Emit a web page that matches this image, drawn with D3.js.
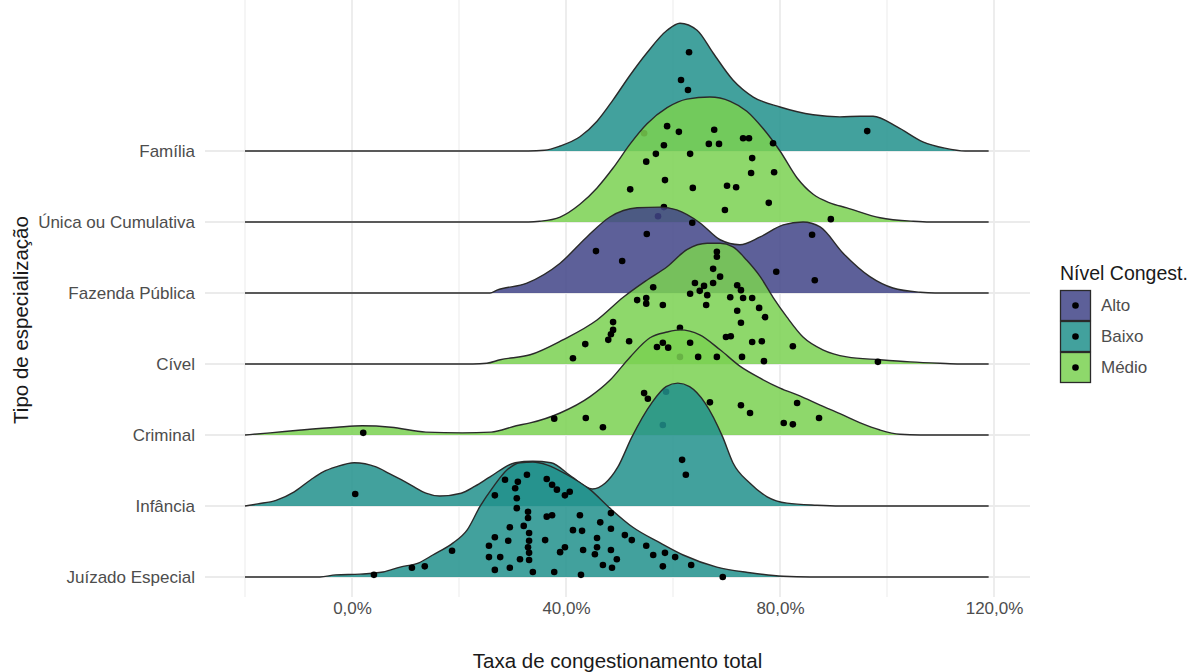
<!DOCTYPE html>
<html>
<head>
<meta charset="utf-8">
<script src="https://cdn.jsdelivr.net/npm/d3@7"></script>
<style>
  html, body { margin: 0; padding: 0; background: #ffffff; }
  svg { display: block; font-family: "Liberation Sans", Arial, sans-serif; }
</style>
</head>
<body>
<svg id="chart" width="1189" height="672"></svg>
<script>
// ---------------- DATA ----------------
// categories from bottom (index 0) to top (index 6)
const categories = ["Juízado Especial", "Infância", "Criminal", "Cível", "Fazenda Pública", "Única ou Cumulativa", "Família"];
const categoryLevel = ["Baixo", "Baixo", "Médio", "Médio", "Alto", "Médio", "Baixo"];
const levels = ["Alto", "Baixo", "Médio"];
const levelColors = ["#414487", "#21908C", "#7AD151"];
const xTicks = [0, 40, 80, 120];

// density ridges: [taxa %, scaled density height]
const densFamilia = [[-20,0],[33,0],[36,0.01],[38.9,0.07],[42.6,0.20],[45.8,0.42],[48.8,0.72],[51.9,1.06],[55.1,1.38],[58.9,1.70],[61.3,1.80],[64.5,1.70],[67.5,1.38],[71.2,1.00],[75,0.76],[80,0.62],[86.2,0.51],[91.2,0.48],[95,0.49],[97.4,0.49],[101.9,0.34],[106.7,0.13],[110.8,0.04],[114.6,0],[119,0]];
const densUnica = [[-20,0],[33,0],[35.1,0.01],[38.9,0.07],[42.6,0.25],[45.8,0.48],[48.8,0.76],[52.0,1.10],[55.1,1.38],[58.9,1.61],[62.6,1.73],[66.9,1.76],[70.7,1.70],[73.8,1.56],[76.8,1.32],[80,1.00],[83.2,0.62],[86.2,0.39],[89.3,0.27],[92.5,0.20],[98.7,0.06],[104.9,0.01],[108,0],[119,0]];
const densFazenda = [[-20,0],[25.8,0],[27.1,0.04],[32.7,0.14],[38.9,0.42],[43.9,0.79],[48.2,1.07],[53.3,1.20],[57.6,1.21],[60.7,1.17],[65.0,0.99],[68.8,0.75],[72.5,0.68],[76.3,0.79],[80.6,0.96],[84.3,1.00],[87.5,0.93],[91.8,0.56],[96.8,0.23],[101.1,0.07],[106.2,0.01],[109,0],[119,0]];
const densCivel = [[-20,0],[22.6,0],[25.2,0.01],[27.7,0.06],[33.3,0.13],[39.4,0.34],[45.8,0.62],[50.7,0.94],[55.1,1.18],[58.9,1.37],[62.6,1.61],[66.4,1.70],[68.8,1.70],[71.2,1.65],[73.8,1.46],[76.3,1.23],[78.7,0.94],[81.3,0.66],[84.3,0.38],[88.0,0.20],[92.5,0.10],[98.7,0.06],[104.3,0.03],[109.9,0.01],[113.6,0],[119,0]];
const densCriminal = [[-20,0],[-15.3,0.03],[-9.5,0.07],[-2.8,0.11],[1.9,0.13],[7.3,0.11],[13.8,0.04],[20.6,0.03],[26,0.04],[30.7,0.13],[33.3,0.17],[38.9,0.31],[44.5,0.54],[48.2,0.77],[52.0,1.10],[55.7,1.37],[58.9,1.45],[61.3,1.48],[65.0,1.41],[68.8,1.20],[72.5,0.97],[76.3,0.80],[80.0,0.66],[83.7,0.55],[87.5,0.42],[91.2,0.30],[95,0.17],[98.7,0.07],[102.4,0.01],[106.2,0],[119,0]];
const densInfancia = [[-20,0],[-17.6,0.03],[-14.2,0.08],[-10.8,0.20],[-7.7,0.37],[-5.4,0.48],[-3.0,0.55],[0.4,0.61],[4.5,0.55],[6.9,0.46],[9.2,0.37],[11.6,0.27],[13.8,0.18],[16.4,0.14],[20.4,0.18],[23.0,0.28],[25.8,0.41],[30.5,0.61],[33.8,0.63],[37.2,0.61],[41.1,0.41],[44.9,0.24],[47.3,0.32],[49.7,0.55],[52.3,0.97],[56.0,1.45],[58.7,1.68],[60.9,1.73],[63.1,1.68],[66.0,1.45],[69.3,0.97],[71.2,0.61],[74.4,0.32],[77.6,0.13],[81.3,0.04],[86.9,0.01],[91.2,0],[119,0]];
const densJuizado = [[-20,0],[-6,0],[-3,0.03],[1.5,0.04],[5.8,0.07],[9.0,0.14],[12.5,0.20],[15.1,0.31],[18.9,0.48],[21.5,0.66],[23.9,0.99],[26.4,1.27],[29.0,1.51],[31.4,1.61],[33.8,1.62],[36.4,1.58],[40.2,1.44],[44.5,1.23],[48.2,0.97],[52.5,0.70],[57.6,0.48],[61.9,0.31],[68.2,0.14],[74.4,0.06],[80.6,0.01],[85.6,0],[119,0]];

// observations: [taxa %, vertical jitter in ridge units]
const ptsFamilia = [[63.0,1.39],[61.5,1.00],[62.8,0.86],[54.6,0.25],[96.3,0.28]];
const ptsUnica = [[58.9,1.35],[61.1,1.27],[67.7,1.30],[58.3,1.08],[66.7,1.10],[68.6,1.10],[73.1,1.18],[74.2,1.18],[78.7,1.11],[56.8,0.96],[63.2,0.96],[55.0,0.85],[74.8,0.90],[58.5,0.59],[63.7,0.48],[52.0,0.46],[70.1,0.51],[71.8,0.49],[74.6,0.69],[78.9,0.70],[77.9,0.27],[69.7,0.17],[89.5,0.04],[58.3,0.21],[57.2,0.08]];
const ptsFazenda = [[63.6,0.99],[55.1,0.83],[45.6,0.59],[50.5,0.45],[86.0,0.82],[79.3,0.30],[86.5,0.18]];
const ptsCivel = [[68.2,1.58],[68.2,1.51],[67.5,1.34],[68.8,1.23],[67.5,1.14],[64.1,1.14],[65.8,1.10],[65.0,1.03],[63.2,0.99],[66.4,0.97],[72.0,1.11],[72.7,1.04],[70.7,0.94],[73.1,0.93],[74.8,0.93],[56.3,1.08],[53.3,0.90],[55.0,0.93],[55.0,0.85],[58.1,0.83],[66.2,0.83],[72.0,0.75],[76.1,0.79],[77.2,0.66],[72.7,0.58],[48.8,0.59],[48.8,0.48],[48.4,0.42],[47.9,0.34],[43.6,0.28],[51.8,0.32],[61.3,0.51],[69.9,0.38],[70.8,0.39],[74.8,0.31],[76.6,0.32],[82.4,0.25],[41.3,0.08],[72.9,0.10],[77.0,0.04],[98.3,0.03],[61.3,0.10]];
const ptsCriminal = [[2.1,0.03],[37.8,0.23],[43.7,0.24],[46.9,0.11],[54.6,0.59],[55.3,0.51],[58.7,0.61],[66.9,0.46],[72.7,0.42],[74.4,0.31],[80.7,0.17],[82.4,0.15],[83.2,0.45],[87.3,0.24],[57.0,1.24],[58.1,1.30],[59.1,1.23],[63.2,1.30],[64.7,1.10],[68.2,1.10],[58.1,0.14]];
const ptsInfancia = [[0.6,0.17],[61.7,0.65],[62.4,0.44]];
const ptsJuizado = [[32.7,1.44],[28.6,1.37],[31.0,1.34],[30.5,1.25],[36.4,1.38],[37.4,1.30],[38.3,1.23],[40.7,1.20],[39.8,1.15],[26.7,1.15],[30.8,1.11],[30.8,0.97],[32.9,0.92],[32.9,0.83],[36.4,0.85],[37.4,0.87],[42.6,0.87],[46.4,0.77],[48.4,0.90],[29.5,0.70],[32.1,0.72],[33.1,0.62],[26.7,0.56],[29.2,0.51],[33.1,0.51],[36.1,0.52],[41.3,0.66],[43.0,0.65],[45.8,0.55],[48.4,0.68],[51.0,0.59],[52.3,0.52],[25.6,0.44],[32.9,0.42],[39.8,0.42],[38.9,0.35],[43.2,0.38],[45.8,0.42],[48.4,0.38],[55.0,0.44],[25.6,0.28],[27.7,0.28],[31.4,0.25],[33.1,0.34],[33.1,0.24],[45.4,0.32],[49.5,0.25],[56.3,0.31],[58.5,0.34],[60.4,0.28],[18.7,0.37],[13.6,0.15],[11.2,0.13],[26.7,0.10],[29.5,0.13],[33.8,0.07],[37.8,0.07],[42.8,0.03],[46.9,0.17],[48.6,0.13],[58.1,0.15],[63.4,0.17],[69.3,0.00],[4.1,0.03]];

const densities = [densJuizado, densInfancia, densCriminal, densCivel, densFazenda, densUnica, densFamilia];
const points = [ptsJuizado, ptsInfancia, ptsCriminal, ptsCivel, ptsFazenda, ptsUnica, ptsFamilia];

// ---------------- CHART ----------------
const svg = d3.select("#chart");
const panel = { left: 205, right: 1030, top: 0, bottom: 597 };
const FONT = '"Liberation Sans", Arial, sans-serif';

const x = d3.scaleLinear().domain([-20, 120]).range([245, 994]);
const y = d3.scaleLinear().domain([0, 6]).range([577, 151]);
const color = d3.scaleOrdinal().domain(levels).range(levelColors);
const fillAlpha = 0.85;

// gridlines
const grid = svg.append("g");
grid.selectAll("line.vx")
  .data(d3.range(-20, 121, 20))
  .join("line")
  .attr("x1", d => x(d)).attr("x2", d => x(d))
  .attr("y1", panel.top).attr("y2", panel.bottom)
  .attr("stroke", "#ebebeb")
  .attr("stroke-width", d => (d % 40 === 0) ? 1.8 : 1);
grid.selectAll("line.hy")
  .data(d3.range(categories.length))
  .join("line")
  .attr("x1", panel.left).attr("x2", panel.right)
  .attr("y1", d => y(d)).attr("y2", d => y(d))
  .attr("stroke", "#ebebeb").attr("stroke-width", 1.8);

// ridges (top first, so lower ridges overlay upper ones)
const area = d3.area().curve(d3.curveMonotoneX);
const line = d3.line().curve(d3.curveMonotoneX);
const ridges = svg.append("g");
for (let i = categories.length - 1; i >= 0; i--) {
  const g = ridges.append("g");
  const dens = densities[i];
  const c = color(categoryLevel[i]);
  g.append("path")
    .attr("d", area.x(d => x(d[0])).y0(() => y(i)).y1(d => y(i + d[1]))(dens))
    .attr("fill", c).attr("fill-opacity", fillAlpha);
  g.append("path")
    .attr("d", line.x(d => x(d[0])).y(d => y(i + d[1]))(dens))
    .attr("fill", "none").attr("stroke", "#2a2a2a").attr("stroke-width", 1.4);
  g.selectAll("circle")
    .data(points[i])
    .join("circle")
    .attr("cx", d => x(d[0]))
    .attr("cy", d => y(i + d[1]))
    .attr("r", 3.3)
    .attr("fill", "#000000");
}

// x axis
const fmt = d => d3.format(".1f")(d).replace(".", ",") + "%";
const xAxis = svg.append("g")
  .attr("transform", `translate(0,${panel.bottom + 3})`)
  .call(d3.axisBottom(x).tickValues(xTicks).tickFormat(fmt).tickSize(0).tickPadding(2));
xAxis.select(".domain").remove();
xAxis.selectAll("text").attr("fill", "#4d4d4d").style("font-size", "17px").style("font-family", FONT);

// y axis
const yAxis = svg.append("g")
  .attr("transform", `translate(${panel.left},0)`)
  .call(d3.axisLeft(y).tickValues(d3.range(categories.length)).tickFormat(i => categories[i]).tickSize(0).tickPadding(10));
yAxis.select(".domain").remove();
yAxis.selectAll("text").attr("fill", "#4d4d4d").style("font-size", "17px").style("font-family", FONT);

// axis titles
svg.append("text")
  .attr("x", (panel.left + panel.right) / 2).attr("y", 668)
  .attr("text-anchor", "middle").attr("fill", "#1a1a1a")
  .style("font-size", "20.5px")
  .text("Taxa de congestionamento total");
svg.append("text")
  .attr("transform", "translate(28,320) rotate(-90)")
  .attr("text-anchor", "middle").attr("fill", "#1a1a1a")
  .style("font-size", "20.5px")
  .text("Tipo de especialização");

// legend
const keySize = 31;
const legend = svg.append("g").attr("transform", "translate(1060,0)");
legend.append("text").attr("x", 0).attr("y", 280)
  .attr("fill", "#1a1a1a").style("font-size", "19.5px").text("Nível Congest.");
const key = legend.selectAll("g.key").data(levels).join("g")
  .attr("transform", (d, k) => `translate(0,${290 + k * keySize})`);
key.append("rect").attr("x", 0.5).attr("y", 0.5).attr("width", keySize - 1).attr("height", keySize - 1)
  .attr("fill", d => color(d)).attr("fill-opacity", fillAlpha)
  .attr("stroke", "#2a2a2a").attr("stroke-width", 1.3);
key.append("circle").attr("cx", keySize / 2).attr("cy", keySize / 2).attr("r", 3.3).attr("fill", "#000");
key.append("text").attr("x", keySize + 10).attr("y", keySize / 2).attr("dy", "0.35em")
  .attr("fill", "#4d4d4d").style("font-size", "17px").text(d => d);
</script>
</body>
</html>
